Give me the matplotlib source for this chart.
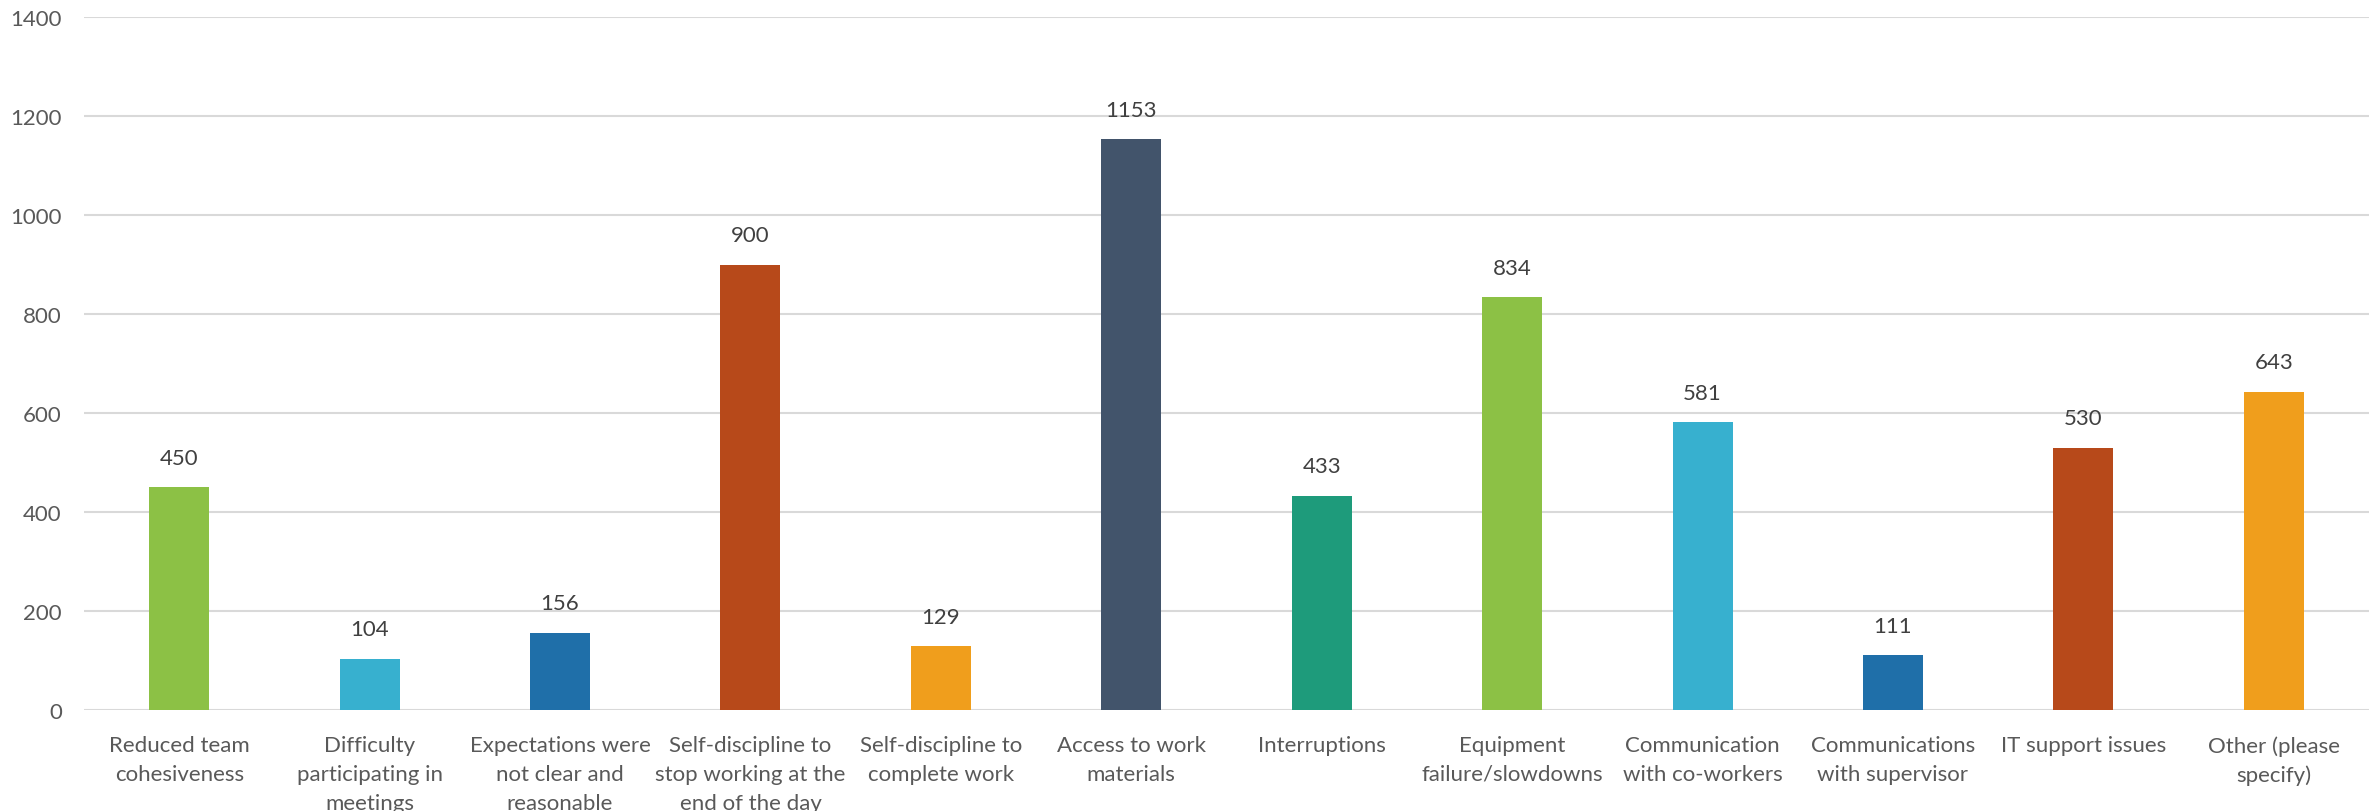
import matplotlib
matplotlib.use('Agg')
import matplotlib.pyplot as plt

plt.rcParams['font.family'] = ['Lato', 'DejaVu Sans']

# categories (wrapped as in the source chart)
categories = ['Reduced team\ncohesiveness', 'Difficulty\nparticipating in\nmeetings',
              'Expectations were\nnot clear and\nreasonable',
              'Self-discipline to\nstop working at the\nend of the day',
              'Self-discipline to\ncomplete work', 'Access to work\nmaterials',
              'Interruptions', 'Equipment\nfailure/slowdowns',
              'Communication\nwith co-workers', 'Communications\nwith supervisor',
              'IT support issues', 'Other (please\nspecify)']
counts = [450, 104, 156, 900, 129, 1153, 433, 834, 581, 111, 530, 643]
bar_colors = ['#8CC145', '#37B0CF', '#1F6FA9', '#B7491A', '#F09E1C', '#42546B',
              '#1E9B7B', '#8CC145', '#37B0CF', '#1F6FA9', '#B7491A', '#F09E1C']
yticks = [0, 200, 400, 600, 800, 1000, 1200, 1400]

text_col = '#595959'

fig = plt.figure(figsize=(23.79, 8.12), dpi=100)
ax = fig.add_axes([0.0353, 0.1244, 0.9605, 0.8534])

x = range(len(categories))
bars = ax.bar(x, counts, width=0.315, color=bar_colors, zorder=3)

# value labels above bars
for b, v in zip(bars, counts):
    ax.annotate(str(v), (b.get_x() + b.get_width() / 2, v), xytext=(0, 14),
                textcoords='offset points', ha='center', va='bottom',
                fontsize=16, color='#404040')

ax.set_xlim(-0.5, len(categories) - 0.5)
ax.set_ylim(0, 1400)
ax.set_yticks(yticks)
ax.set_xticks(list(x))
ax.set_xticklabels(categories, fontsize=16, color=text_col, linespacing=1.55)
ax.tick_params(axis='y', labelsize=16, labelcolor=text_col, length=0, pad=16)
ax.tick_params(axis='x', length=0, pad=18)
ax.yaxis.grid(True, color='#D9D9D9', linewidth=1.5, zorder=0)
for s in ax.spines.values():
    s.set_visible(False)

fig.savefig('out.png', dpi=100)
